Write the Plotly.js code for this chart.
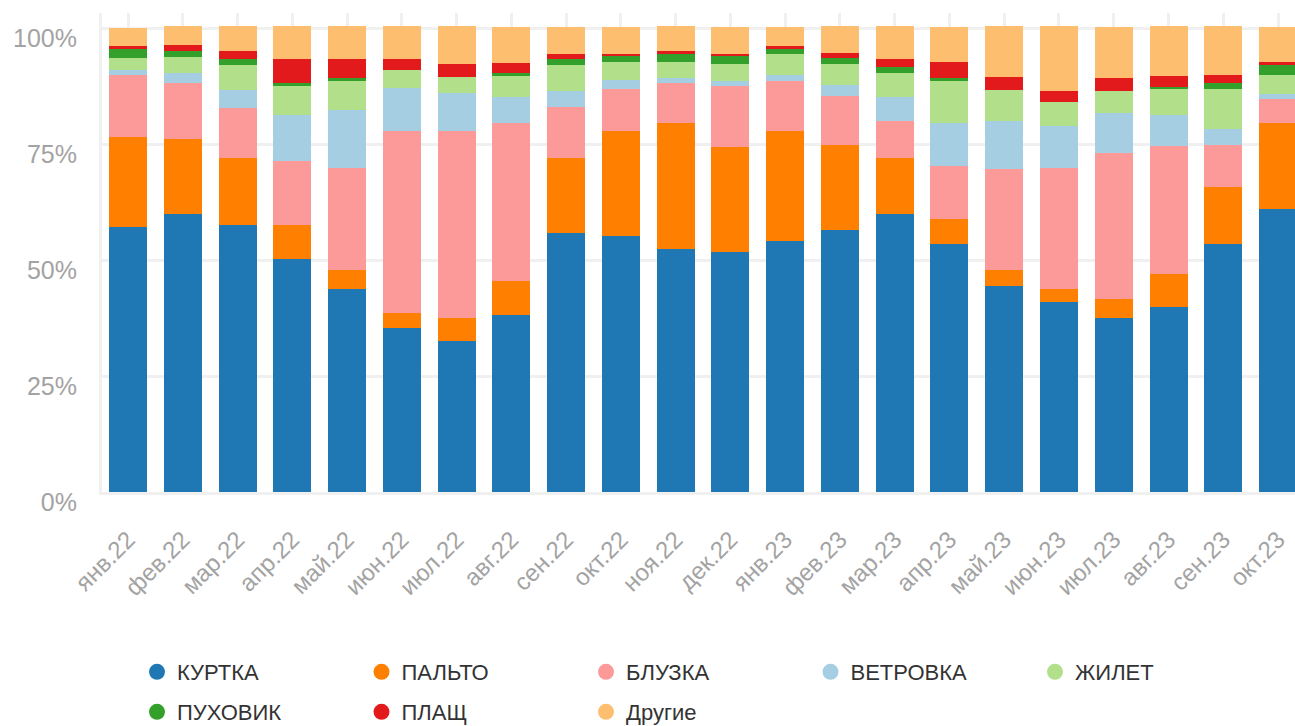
<!DOCTYPE html>
<html>
<head>
<meta charset="utf-8">
<script src="https://cdn.plot.ly/plotly-3.0.1.min.js"></script>
<style>
  html, body { margin: 0; padding: 0; background: #fff; }
  #chart { width: 1295px; height: 726px; }
</style>
</head>
<body>
<div id="chart"></div>
<script>
var months = ["янв.22","фев.22","мар.22","апр.22","май.22","июн.22","июл.22","авг.22",
              "сен.22","окт.22","ноя.22","дек.22","янв.23","фев.23","мар.23","апр.23",
              "май.23","июн.23","июл.23","авг.23","сен.23","окт.23"];

var kurtka   = [57.1, 60.0, 57.5, 50.2, 43.7, 35.3, 32.5, 38.1, 55.8, 55.2, 52.4, 51.7, 54.1, 56.5, 59.9, 53.4, 44.4, 40.9, 37.5, 39.8, 53.4, 61.0];
var palto    = [19.4, 16.1, 14.5,  7.3,  4.2,  3.2,  5.0,  7.3, 16.2, 22.7, 27.2, 22.7, 23.7, 18.4, 12.1,  5.4,  3.5,  2.8,  4.1,  7.3, 12.3, 18.6];
var bluzka   = [13.4, 12.1, 10.9, 13.8, 22.0, 39.3, 40.4, 34.1, 11.0,  9.1,  8.6, 13.2, 10.8, 10.6,  8.0, 11.4, 21.8, 26.1, 31.5, 27.6,  9.1,  5.2];
var vetrovka = [ 1.1,  2.2,  3.9,  9.9, 12.5,  9.4,  8.1,  5.6,  3.5,  1.9,  1.1,  1.1,  1.3,  2.2,  5.2,  9.3, 10.4,  9.1,  8.6,  6.5,  3.5,  1.1];
var zhilet   = [ 2.7,  3.5,  5.2,  6.3,  6.4,  3.8,  3.4,  4.7,  5.6,  3.9,  3.5,  3.5,  4.5,  4.5,  5.2,  9.3,  6.5,  5.2,  4.7,  5.8,  8.6,  4.0];
var puhovik  = [ 1.9,  1.3,  1.3,  0.6,  0.4,  0.0,  0.0,  0.6,  1.3,  1.3,  1.7,  1.9,  1.3,  1.3,  1.3,  0.4,  0.0,  0.0,  0.0,  0.4,  1.3,  2.4];
var plasch   = [ 0.5,  1.1,  1.7,  5.2,  4.1,  2.4,  2.8,  2.2,  1.1,  0.4,  0.6,  0.4,  0.4,  1.1,  1.7,  3.5,  2.8,  2.4,  2.8,  2.4,  1.7,  0.4];
var drugie   = [ 4.0,  4.1,  5.4,  7.1,  7.1,  7.1,  8.2,  7.6,  5.8,  5.8,  5.4,  5.8,  4.1,  5.8,  7.1,  7.6, 11.0, 14.0, 11.0, 10.6, 10.6,  7.6];

var names  = ["КУРТКА","ПАЛЬТО","БЛУЗКА","ВЕТРОВКА","ЖИЛЕТ","ПУХОВИК","ПЛАЩ","Другие"];
var series = [kurtka, palto, bluzka, vetrovka, zhilet, puhovik, plasch, drugie];
var colors = ["#1f78b4","#ff7f00","#fb9a99","#a6cee3","#b2df8a","#33a02c","#e31a1c","#fdbf6f"];

var yTicks      = [0, 25, 50, 75, 100];
var yTickLabels = ["0%", "25%", "50%", "75%", "100%"];

var data = [];
series.forEach(function(s, i) {
    data.push({
        type: 'bar',
        x: months,
        y: s,
        name: names[i],
        marker: { color: colors[i], line: { width: 0 } },
        showlegend: false,
        hoverinfo: 'x+y+name'
    });
});
// legend entries: round markers, two rows
names.forEach(function(n, i) {
    data.push({
        type: 'scatter',
        mode: 'markers',
        x: [null],
        y: [null],
        name: n,
        marker: { color: colors[i], size: 20, symbol: 'circle' },
        legend: i < 5 ? 'legend' : 'legend2',
        hoverinfo: 'skip'
    });
});

var legendBase = {
    orientation: 'h',
    traceorder: 'normal',
    xref: 'container', yref: 'container',
    x: 137 / 1295, xanchor: 'left',
    yanchor: 'top',
    entrywidth: 179.5, entrywidthmode: 'pixels',
    font: { family: 'Liberation Sans, Arial, sans-serif', size: 22, color: '#333' },
    bgcolor: 'rgba(0,0,0,0)'
};

var layout = {
    width: 1295,
    height: 726,
    margin: { l: 102, r: 0, t: 13, b: 234 },
    paper_bgcolor: '#fff',
    plot_bgcolor: '#fff',
    barmode: 'stack',
    bargap: 0.306,
    font: { family: 'Liberation Sans, Arial, sans-serif' },
    xaxis: {
        type: 'category',
        range: [-0.475, 21.31],
        tickangle: -45,
        tickfont: { size: 24, color: '#a3a3a3' },
        ticklabelstandoff: 21,
        showgrid: true,
        gridcolor: '#f0f0f0',
        gridwidth: 3,
        showline: true,
        linecolor: '#f0f0f0',
        linewidth: 3,
        ticks: '',
        fixedrange: true
    },
    yaxis: {
        range: [0, 103.3],
        tickvals: yTicks,
        ticktext: yTickLabels,
        tickfont: { size: 25, color: '#a3a3a3' },
        ticklabelstandoff: 17,
        ticklabelshift: 10,
        showgrid: true,
        gridcolor: '#f0f0f0',
        gridwidth: 3,
        zeroline: false,
        showline: true,
        linecolor: '#f0f0f0',
        linewidth: 3,
        ticks: '',
        fixedrange: true
    },
    legend: Object.assign({}, legendBase, { y: 1 - 651 / 726 }),
    legend2: Object.assign({}, legendBase, { y: 1 - 691 / 726 })
};

Plotly.newPlot('chart', data, layout, { displayModeBar: false, responsive: false });
</script>
</body>
</html>
